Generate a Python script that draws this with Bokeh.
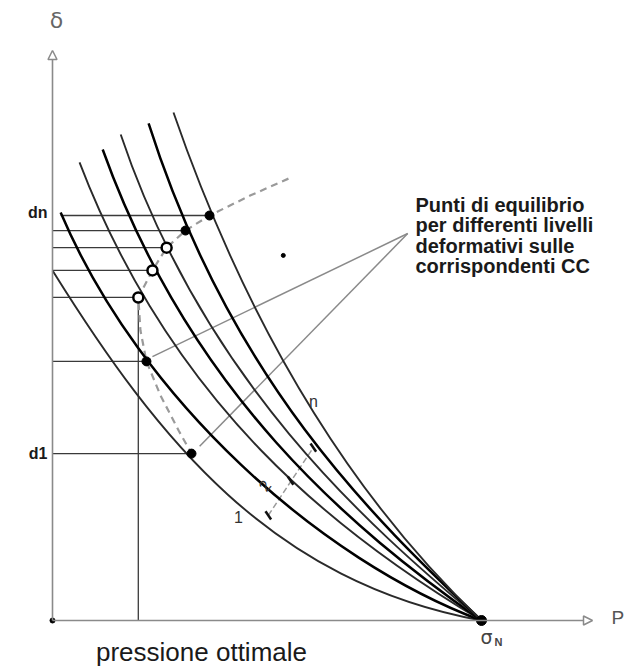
from bokeh.plotting import figure
from bokeh.models import Range1d, Label, Arrow, NormalHead, ColumnDataSource
from bokeh.embed import file_html
from bokeh.resources import INLINE
from bokeh.core.properties import value

# ------------------------------------------------------------------
# Data (P = pressione, delta = deformazione; sigma_N = 10 units)
# ------------------------------------------------------------------
sigma_N = 10.0

# Curve caratteristiche (CC) 1..n, each drawn as a cubic Bezier ending in sigma_N
curve_names = ["1", "2", "3", "4", "5", "6", "n"]
curve_start_P = [0.00, 0.19, 0.63, 1.17, 1.59, 2.24, 2.82]
curve_start_d = [8.16, 9.51, 10.68, 10.98, 11.33, 11.59, 11.84]
curve_ctrl1_P = [2.47, 2.05, 2.80, 3.22, 3.52, 4.15, 4.34]
curve_ctrl1_d = [4.20, 5.13, 5.01, 5.27, 5.59, 5.59, 7.44]
curve_ctrl2_P = [5.10, 6.25, 6.60, 6.95, 7.32, 7.46, 6.62]
curve_ctrl2_d = [0.90, 1.40, 2.03, 2.15, 2.24, 2.40, 3.22]

# Punti di equilibrio (one on each CC, d1 .. dn)
eq_P = [3.24, 2.19, 2.00, 2.33, 2.66, 3.10, 3.66]
eq_d = [3.89, 6.04, 7.53, 8.16, 8.69, 9.09, 9.44]
eq_open = [False, False, True, True, True, False, False]
eq_line_from = [0.0, 0.0, 0.0, 0.0, 0.0, 0.0, 0.19]

# Dashed curve through the equilibrium points
dash_P = [5.50, 4.62, 3.66, 3.10, 2.66, 2.33, 2.00, 2.05, 2.19, 2.52, 2.94, 3.24]
dash_d = [10.30, 9.91, 9.44, 9.09, 8.69, 8.16, 7.53, 6.76, 6.04, 5.24, 4.43, 3.89]

# Pressione ottimale
p_opt = 2.00
d_opt = 7.53

# Leader lines of the note (apex -> target points)
leader_apex = (8.28, 9.02)
leader_end_P = [2.33, 3.43]
leader_end_d = [6.15, 4.06]

# Dimension line across the curves (1 -> n)
dim_P = [5.03, 6.08]
dim_d = [2.45, 4.03]
dim_tick_P = [5.03, 5.55, 6.08]
dim_tick_d = [2.45, 3.26, 4.03]

stray_dot = (5.38, 8.51)

note_lines = ["Punti di equilibrio", "per differenti livelli",
              "deformativi sulle", "corrispondenti CC"]

# ------------------------------------------------------------------
# Layout
# ------------------------------------------------------------------
W, H = 636, 668
OFF = 0           # page offset of the figure
K = 42.9          # px per unit
OX, OY = 52, 620  # origin position in the page


def at(px, py):
    return ((px - OX) / K, (OY - py) / K)


p = figure(width=W, height=H,
           x_range=Range1d((OFF - OX) / K, (OFF + W - OX) / K),
           y_range=Range1d((OY - OFF - H) / K, (OY - OFF) / K),
           x_axis_type=None, y_axis_type=None,
           output_backend="svg", toolbar_location=None,
           min_border=0, outline_line_color=None,
           background_fill_color="white", border_fill_color="white")
p.grid.visible = False

AX = "#8a8a8a"
# axes with open arrow heads
ytop = at(OX, 50)
xend = at(592, OY)
p.add_layout(Arrow(end=NormalHead(size=9, fill_color="white", line_color=AX, line_width=1.5),
                   x_start=0, y_start=0, x_end=0, y_end=ytop[1],
                   line_color=AX, line_width=1.6))
p.add_layout(Arrow(end=NormalHead(size=9, fill_color="white", line_color=AX, line_width=1.5),
                   x_start=0, y_start=0, x_end=xend[0], y_end=0,
                   line_color=AX, line_width=1.6))

# horizontal lines to equilibrium points, vertical to pressione ottimale
p.segment(x0=eq_line_from, y0=eq_d, x1=eq_P, y1=eq_d, line_color="#3a3a3a", line_width=1.3)
p.segment(x0=[p_opt], y0=[d_opt], x1=[p_opt], y1=[0], line_color="#3a3a3a", line_width=1.3)

# dashed curve
p.line(dash_P, dash_d, line_color="#9a9a9a", line_width=2.2, line_dash="7 5")

# leader lines
p.segment(x0=[leader_apex[0]] * 2, y0=[leader_apex[1]] * 2, x1=leader_end_P, y1=leader_end_d,
          line_color="#8a8a8a", line_width=1.5)

# dimension line
p.line(dim_P, dim_d, line_color="#9a9a9a", line_width=1.5, line_dash="6 3")

# CC curves
src = ColumnDataSource(dict(
    x0=curve_start_P, y0=curve_start_d,
    x1=[sigma_N] * len(curve_names), y1=[0.0] * len(curve_names),
    cx0=curve_ctrl1_P, cy0=curve_ctrl1_d, cx1=curve_ctrl2_P, cy1=curve_ctrl2_d,
    color=["#2a2a2a", "#000000", "#2a2a2a", "#000000", "#2a2a2a", "#000000", "#2a2a2a"],
    lw=[1.9, 2.5, 1.9, 2.5, 1.9, 2.5, 1.9],
))
p.bezier(x0="x0", y0="y0", x1="x1", y1="y1", cx0="cx0", cy0="cy0", cx1="cx1", cy1="cy1",
         source=src, line_color="color", line_width="lw")

# dimension ticks
p.scatter(dim_tick_P, dim_tick_d, marker="dash", angle=-0.98, size=10,
          line_color="#111111", line_width=2.5)

# equilibrium markers
fP = [x for x, o in zip(eq_P, eq_open) if not o]
fd = [y for y, o in zip(eq_d, eq_open) if not o]
oP = [x for x, o in zip(eq_P, eq_open) if o]
od = [y for y, o in zip(eq_d, eq_open) if o]
p.scatter(fP, fd, size=9, fill_color="black", line_color="black")
p.scatter(oP, od, size=10, fill_color="white", line_color="black", line_width=2.5)

# origin, sigma_N, stray dot
p.scatter([0], [0], size=5, fill_color="black", line_color="black")
p.scatter([sigma_N], [0], size=10, fill_color="black", line_color="black")
p.scatter([stray_dot[0]], [stray_dot[1]], size=4, fill_color="black", line_color="black")

# ------------------------------------------------------------------
# Texts
# ------------------------------------------------------------------
def label(txt, pos, size, color="#1a1a1a", align="left", baseline="middle",
          font="Liberation Sans", style="normal", angle=0.0):
    p.add_layout(Label(x=pos[0], y=pos[1], text=txt, text_font=font,
                       text_font_size=f"{size}px", text_color=color,
                       text_align=align, text_baseline=baseline,
                       text_font_style=style, angle=angle))

label("δ", at(56, 20), 22, color="#666666", align="center", font="DejaVu Sans")
label("P", at(611, 617), 19, color="#555555", align="left")
label("σ", at(486, 636), 19, color="#444444", align="center", font="DejaVu Sans")
label("N", at(494, 641), 11, color="#444444", align="left", font="Liberation Sans", style="bold")
label("pressione ottimale", at(201, 651), 26, color="#1a1a1a", align="center",
      baseline="middle")
label("dn", at(47, 212), 16, align="right", style="bold")
label("d1", at(47, 453), 16, align="right", style="bold")

for i, t in enumerate(note_lines):
    label(t, at(415, 204 + 20.5 * i), 20, color="#1a1a1a", align="left", style="bold")

label(curve_names[-1], at(313, 401), 16, color="#333333", align="center")
label(curve_names[1], at(264, 485), 16, color="#333333", align="center", angle=0.9)
label(curve_names[0], at(238, 516), 16, color="#333333", align="center")

open("out.html", "w").write(file_html(p, INLINE))
